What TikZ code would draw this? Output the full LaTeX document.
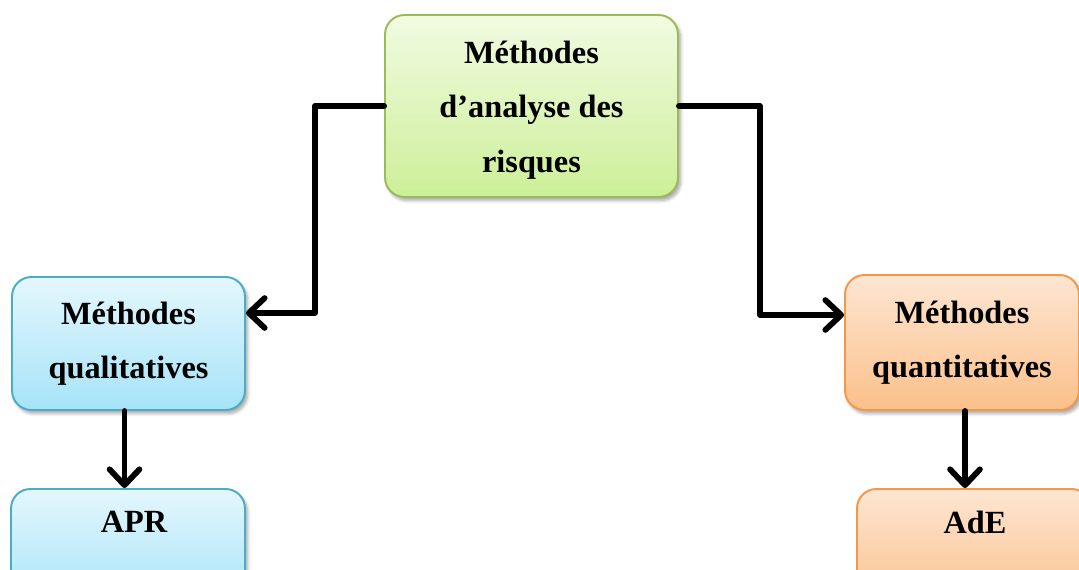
\documentclass[tikz,border=0pt]{standalone}
\usepackage{fontspec}
\setmainfont{Liberation Serif}
\usetikzlibrary{arrows.meta,shadows.blur}

\definecolor{grnTop}{HTML}{F1FBE2}
\definecolor{grnBot}{HTML}{CDEF98}
\definecolor{grnLine}{HTML}{9BBB59}
\definecolor{bluTop}{HTML}{E4F7FD}
\definecolor{bluBot}{HTML}{A6E3F8}
\definecolor{bluLine}{HTML}{4BACC6}
\definecolor{orgTop}{HTML}{FDE6D2}
\definecolor{orgBot}{HTML}{FBC08A}
\definecolor{orgLine}{HTML}{F79646}

\tikzset{
  box/.style={draw, line width=1.1pt, rounded corners=11pt, inner sep=0pt,
    align=center, font=\fontsize{18.4}{31}\selectfont\bfseries,
    blur shadow={shadow xshift=1.5pt, shadow yshift=-2pt, shadow blur steps=6, shadow opacity=35}},
  greenbox/.style={box, draw=grnLine, top color=grnTop, bottom color=grnBot},
  bluebox/.style={box, draw=bluLine, top color=bluTop, bottom color=bluBot},
  orangebox/.style={box, draw=orgLine, top color=orgTop, bottom color=orgBot},
  boxtext/.style={font=\fontsize{18.4}{31}\selectfont\bfseries, inner sep=0pt},
  conn/.style={line width=3.3pt, line join=round, line cap=round,
    -{Straight Barb[length=9pt, width=17pt, line cap=round, line join=round]}},
}

\begin{document}
\begin{tikzpicture}[x=0.02cm, y=-0.02cm]
  \useasboundingbox (0,0) rectangle (1079,570);
  \clip (0,0) rectangle (1079,570);

  % main box
  \node[greenbox, minimum width=5.86cm, minimum height=3.64cm] (top) at (531.5,106) {};
  \node[boxtext, align=center] at (531.5,110) {Méthodes\\d’analyse des\\risques};

  % the two families of methods
  \node[bluebox, minimum width=4.66cm, minimum height=2.66cm] (qual) at (128.5,343.5)
    {Méthodes\\qualitatives};
  \node[orangebox, minimum width=4.68cm, minimum height=2.7cm] (quant) at (962,342.5)
    {Méthodes\\quantitatives};

  % examples (boxes run past the lower edge)
  \node[bluebox, minimum width=4.68cm, minimum height=2.4cm] (apr) at (128,549) {};
  \node[boxtext] at (134,522) {APR};
  \node[orangebox, minimum width=4.68cm, minimum height=2.4cm] (ade) at (974,549) {};
  \node[boxtext] at (975,522) {AdE};

  % connectors
  \coordinate (lbend) at (315,313);
  \coordinate (rbend) at (760,315);
  \draw[conn] (top.west) -| (lbend) -- (qual.east |- lbend);
  \draw[conn] (top.east) -| (rbend) -- (quant.west |- rbend);
  \draw[conn] ([xshift=-0.08cm]qual.south) -- ([xshift=-0.08cm]qual.south |- apr.north);
  \draw[conn] ([xshift=0.06cm]quant.south) -- ([xshift=0.06cm]quant.south |- ade.north);
\end{tikzpicture}
\end{document}
